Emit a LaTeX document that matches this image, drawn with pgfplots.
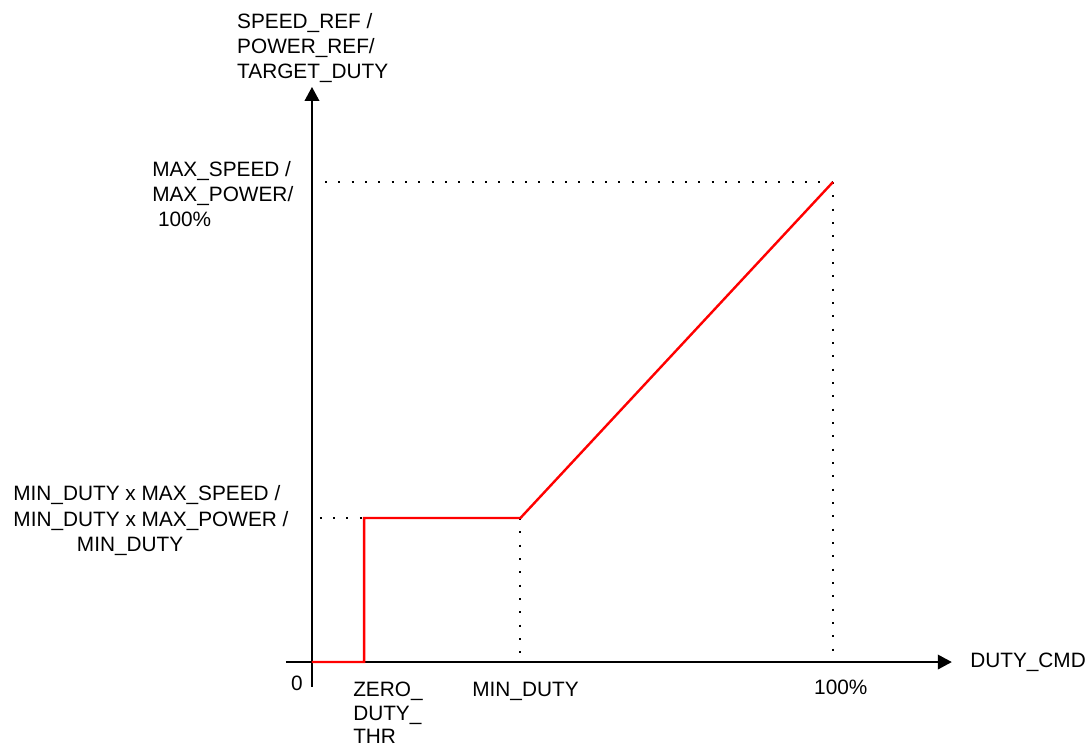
\documentclass[border=0pt]{standalone}
\usepackage{fontspec}
\setmainfont{Liberation Sans}
\usepackage{pgfplots}
\pgfplotsset{compat=1.18}
\usetikzlibrary{arrows.meta}
\begin{document}
\begin{tikzpicture}[font=\fontsize{15.6}{18.75}\selectfont]
\begin{axis}[
  x=3.9075pt, y=3.6pt,
  xmin=-5, xmax=122.8, ymin=-5.2, ymax=119.8,
  axis lines=middle,
  inner axis line style={line width=1.2pt, -{Triangle[length=10.5pt,width=11pt]}},
  xtick=\empty, ytick=\empty,
  clip=false,
  dots/.style={black, line width=1.5pt, line cap=butt, dash pattern=on 1.5pt off 8.5pt},
]
% invisible frame giving the picture its proportions
\path (axis cs:-59.88,-17.6) rectangle (axis cs:149.52,137.92);
% reference dotted lines
\addplot[dots] coordinates {(2.5,100) (100,100)};
\addplot[dots] coordinates {(100,100) (100,0)};
\addplot[dots] coordinates {(1.5,30) (10,30)};
\addplot[dots] coordinates {(40,30) (40,0)};
% characteristic
\addplot[color={rgb,255:red,255;green,0;blue,0}, line width=1.8pt, line join=miter] coordinates {(0,0) (10,0) (10,30) (40,30) (100,100)};
% y axis title
\node[anchor=base west, inner sep=0pt] at (axis cs:-14.4,131.9) {SPEED\_REF /};
\node[anchor=base west, inner sep=0pt] at (axis cs:-14.4,126.7) {POWER\_REF/};
\node[anchor=base west, inner sep=0pt] at (axis cs:-14.4,121.5) {TARGET\_DUTY};
% max label
\node[anchor=base west, inner sep=0pt] at (axis cs:-30.7,101.25) {MAX\_SPEED /};
\node[anchor=base west, inner sep=0pt] at (axis cs:-30.7,96.04) {MAX\_POWER/};
\node[anchor=base west, inner sep=0pt] at (axis cs:-29.6,90.83) {100\%};
% min label
\node[anchor=base, inner sep=0pt] at (axis cs:-31.7,33.6) {MIN\_DUTY x MAX\_SPEED /};
\node[anchor=base, inner sep=0pt] at (axis cs:-30.9,28.33) {MIN\_DUTY x MAX\_POWER /};
\node[anchor=base, inner sep=0pt] at (axis cs:-34.9,22.98) {MIN\_DUTY};
% x labels
\node[anchor=base, inner sep=0pt] at (axis cs:-2.88,-5.83) {0};
\node[anchor=base west, inner sep=0pt] at (axis cs:7.87,-7.08) {ZERO\_};
\node[anchor=base west, inner sep=0pt] at (axis cs:7.87,-12.19) {DUTY\_};
\node[anchor=base west, inner sep=0pt] at (axis cs:7.87,-17.0) {THR};
\node[anchor=base, inner sep=0pt] at (axis cs:40.98,-7.08) {MIN\_DUTY};
\node[anchor=base, inner sep=0pt] at (axis cs:101.5,-6.67) {100\%};
\node[anchor=base west, inner sep=0pt] at (axis cs:126.3,-1.04) {DUTY\_CMD};
\end{axis}
\end{tikzpicture}
\end{document}
